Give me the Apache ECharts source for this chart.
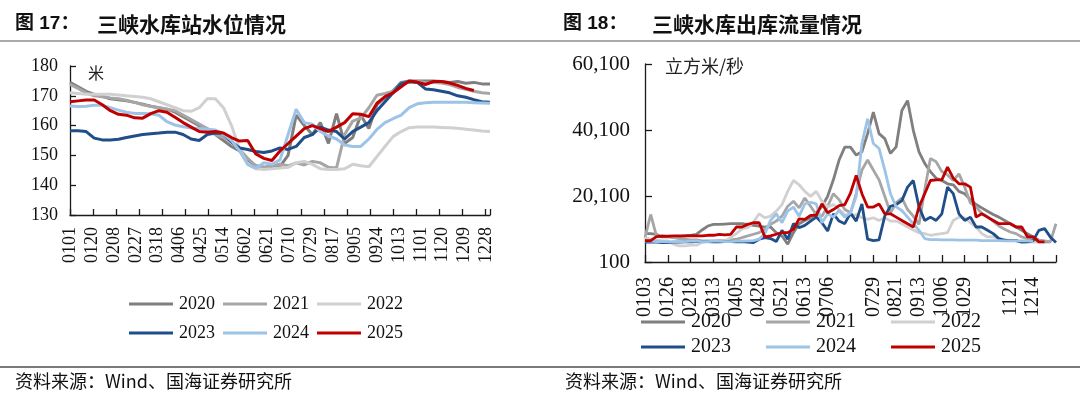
<!DOCTYPE html>
<html><head><meta charset="utf-8">
<script src="https://cdn.jsdelivr.net/npm/echarts@6/dist/echarts.min.js"></script>
<style>html,body{margin:0;padding:0;background:#fff}#c{width:1080px;height:395px}</style>
</head><body><div id="c"></div>
<script>
const years = ['2020','2021','2022','2023','2024','2025'];
const yearColors = ['#7f7f7f','#a6a6a6','#d0d0d0','#1f4e89','#9dc3e6','#c00000'];

// ---- Chart 17: water level (m), x = day of year (0 = Jan 1)
const levelTickLabels = ['0101','0120','0208','0227','0318','0406','0425','0514','0602','0621','0710','0729','0817','0905','0924','1013','1101','1120','1209','1228'];
const levelDays = [0,7,14,21,28,35,42,49,56,63,70,77,84,91,98,105,112,119,126,133,140,147,154,161,168,175,182,189,196,203,210,217,224,231,238,245,252,259,266,273,280,287,294,301,308,315,322,329,336,343,350,357,364];
const level2020 = [174.5,173.0,171.5,170.5,169.8,169.0,168.7,168.3,167.8,167.2,166.5,166.0,165.5,164.5,163.0,161.5,160.0,158.5,157.0,155.0,153.0,151.5,148.5,146.5,146.0,146.0,146.3,150.0,163.5,160.0,157.0,161.0,154.0,164.0,154.0,156.0,163.5,159.0,167.0,169.5,171.7,174.5,175.0,175.0,175.0,175.0,174.8,174.5,174.8,174.2,174.5,174.0,174.0];
const level2021 = [173.8,172.5,171.0,170.0,169.7,169.3,169.0,168.5,167.8,167.0,166.5,166.0,165.5,165.0,163.5,162.0,160.5,159.0,157.0,156.0,154.5,152.0,149.0,146.5,146.0,146.5,147.0,146.5,147.5,146.8,148.0,147.5,146.0,145.8,157.0,161.5,162.5,166.0,170.2,170.8,171.5,173.5,174.7,174.8,174.5,174.5,174.3,173.8,172.8,172.2,171.5,171.0,170.8];
const level2022 = [171.0,170.8,170.5,170.5,170.5,170.5,170.3,170.0,169.8,169.5,169.0,168.0,167.0,166.0,165.0,164.8,166.0,169.0,169.0,166.0,160.0,152.0,147.0,145.5,145.3,145.5,145.8,146.0,147.5,148.0,147.0,145.5,145.3,145.3,145.5,147.0,146.5,146.2,149.6,153.0,156.3,158.0,159.3,159.5,159.5,159.5,159.4,159.3,159.1,158.8,158.5,158.2,158.0];
const level2023 = [158.3,158.3,158.0,155.8,155.2,155.2,155.4,156.0,156.5,157.0,157.3,157.5,157.8,157.8,157.0,155.5,155.0,157.0,157.5,157.3,154.5,152.5,152.0,151.3,151.0,151.5,152.5,152.0,153.0,156.0,157.0,159.5,158.5,158.0,155.5,158.0,159.5,161.0,165.0,168.0,171.0,174.0,174.7,174.5,172.3,172.0,171.5,171.0,170.0,169.5,168.7,168.0,167.8];
const level2024 = [166.6,166.4,166.5,166.8,166.8,166.0,165.2,164.5,164.1,164.1,164.0,163.5,161.3,160.2,159.6,159.2,159.0,158.8,158.5,157.2,155.0,151.5,147.0,145.7,147.5,147.0,148.5,157.0,165.5,161.0,160.5,158.0,156.5,155.5,153.5,153.0,153.0,155.5,158.7,161.0,162.3,163.5,166.0,167.3,167.7,167.8,167.8,167.8,167.8,167.8,167.7,167.6,167.5];
const level2025 = [168.0,168.3,168.6,168.6,167.0,165.0,163.8,163.5,162.6,162.5,164.0,165.0,164.5,162.8,161.0,159.5,158.0,157.8,158.0,157.5,156.0,154.8,155.0,150.5,149.0,148.3,151.5,154.0,156.5,159.0,160.0,159.0,158.0,159.5,161.0,164.0,163.8,163.0,167.5,169.7,171.0,173.0,175.0,174.6,173.8,174.8,174.8,174.3,173.5,172.5,171.8,null,null];

// ---- Chart 18: outflow (m3/s), x = position in tick slots
const flowTickLabels = ['0103','0126','0218','0313','0405','0428','0521','0613','0706','','0729','0821','0913','1006','1029','','1121','1214',''];
const flowPos = [0,0.25,0.5,0.75,1,1.25,1.5,1.75,2,2.25,2.5,2.75,3,3.25,3.5,3.75,4,4.25,4.5,4.75,5,5.25,5.5,5.75,6,6.25,6.5,6.75,7,7.25,7.5,7.75,8,8.25,8.5,8.75,9,9.25,9.5,9.75,10,10.25,10.5,10.75,11,11.25,11.5,11.75,12,12.25,12.5,12.75,13,13.25,13.5,13.75,14,14.25,14.5,14.75,15,15.25,15.5,15.75,16,16.25,16.5,16.75,17,17.25,17.5,17.75,18];
const flow2020 = [8700,8700,8500,7700,7700,7700,7800,8000,8200,8500,9800,11000,11500,11500,11600,11700,11700,11700,11500,11200,11000,10700,10700,9000,8000,5500,9000,11700,12700,13500,15000,17000,20000,25000,31000,34900,34900,32500,33500,39000,45500,39000,37500,33000,35000,46000,49000,40000,33500,30000,27500,25500,24800,23800,23500,21500,20800,19000,17500,16500,15500,14500,13700,12700,11700,10700,9700,8700,7700,6700,6200,6200,null];
const flow2021 = [7500,14500,8000,8000,7800,7500,7200,7000,6800,6800,6500,6500,6500,6600,6600,6800,7000,7500,8000,8500,9000,10000,11500,12500,14000,17000,18500,16500,19500,17000,14500,14000,17000,20800,19000,16000,15000,20800,28000,31000,28000,25000,20000,15000,18000,19500,16000,14000,11500,22000,31500,30500,27500,26500,24800,26800,22800,18000,16800,14800,13800,12500,11000,10000,9200,8700,7700,7200,7000,6700,6500,6200,11700];
const flow2022 = [7500,7000,6800,6500,6500,5500,5000,5000,5200,5200,6000,6200,6200,6300,6500,7500,8700,10200,10500,12200,14700,13500,14000,15500,17500,21500,24800,23500,21500,20000,21500,18500,16800,17500,16000,14500,14000,14500,13500,13000,13500,12700,13500,12500,12500,11700,10700,9800,9000,8700,8200,8500,8700,9000,12700,13700,13500,12000,10700,8700,7700,7700,7200,6800,6600,6600,6300,6200,6100,6100,6100,null,null];
const flow2023 = [6100,6200,6100,6000,6000,6100,6100,6200,6200,6300,6300,6300,6200,6200,6300,6300,6200,6300,6100,6000,7000,7500,7200,6300,9700,7000,11700,10500,11200,12500,13700,12000,9500,14700,12500,11700,15000,12500,17700,7000,6600,6800,14000,17000,17500,18700,22800,24800,16800,12700,13700,12700,14700,22800,20800,14700,12700,13700,10700,10700,9700,8700,7200,6700,6600,6600,6100,6200,6600,9700,10200,7700,6000];
const flow2024 = [6500,6400,6300,6300,6200,6200,6300,6300,6400,6400,6300,6300,6400,6400,6300,6300,6400,6400,6500,6600,7000,8700,12700,14700,12000,15500,16750,14000,17700,18200,17700,12000,14700,13700,15700,13700,15000,20000,36000,43500,36000,34500,28000,20800,16800,15700,13700,11700,9700,7200,6900,6900,6800,6800,6800,6700,6700,6700,6700,6600,6600,6600,6600,6500,6500,6500,6500,6500,6400,null,null,null,null];
const flow2025 = [6600,6600,7800,7900,7900,8000,8000,8000,8100,8000,8000,8200,8200,8500,8300,8500,10700,10700,11500,12000,12000,7700,8000,8500,9000,9000,10000,13200,13000,14200,14200,17750,15000,16000,17200,17500,21000,26300,20800,16750,16750,17700,14700,14700,13700,12700,11700,10700,16800,20800,24800,25000,25000,28850,25500,23800,23800,22800,13700,14700,13700,12700,11700,11700,11700,10700,10700,7700,7700,6200,6200,null,null];

const levelSeries = [level2020, level2021, level2022, level2023, level2024, level2025];
const flowSeries = [flow2020, flow2021, flow2022, flow2023, flow2024, flow2025];

const serif = "'Liberation Serif', 'Times New Roman', serif";
const axisColor = '#1a1a1a';

function pairs(xs, ys) {
  const out = [];
  for (let i = 0; i < xs.length; i++) if (ys[i] != null) out.push([xs[i], ys[i]]);
  return out;
}
function commas(v) { return String(Math.round(v)).replace(/\B(?=(\d{3})+(?!\d))/g, ','); }

const series = [];
years.forEach((y, k) => {
  series.push({ name: y, type: 'line', xAxisIndex: 0, yAxisIndex: 0, showSymbol: false, symbol: 'none',
    data: pairs(levelDays, levelSeries[k]), lineStyle: { width: 3, color: yearColors[k] }, itemStyle: { color: yearColors[k] }, z: 2 + k });
});
years.forEach((y, k) => {
  series.push({ name: y, type: 'line', xAxisIndex: 2, yAxisIndex: 1, showSymbol: false, symbol: 'none',
    data: pairs(flowPos, flowSeries[k]), lineStyle: { width: 2.8, color: yearColors[k] }, itemStyle: { color: yearColors[k] }, z: 2 + k });
});

function legendItem(name, left, top, size) {
  return { data: [name], left: left, top: top, padding: 0, itemGap: 0, itemWidth: 44, itemHeight: 3, icon: 'rect',
    selectedMode: false, textStyle: { fontFamily: serif, fontSize: size, color: '#111', padding: [0, 0, 0, 1] } };
}
const legends = [
  legendItem('2020', 129, 295, 18), legendItem('2021', 223, 295, 18), legendItem('2022', 317, 295, 18),
  legendItem('2023', 129, 324, 18), legendItem('2024', 223, 324, 18), legendItem('2025', 317, 324, 18),
  legendItem('2020', 641, 312, 20), legendItem('2021', 766, 312, 20), legendItem('2022', 891, 312, 20),
  legendItem('2023', 641, 337, 20), legendItem('2024', 766, 337, 20), legendItem('2025', 891, 337, 20)
];

const chart = echarts.init(document.getElementById('c'), null, { renderer: 'canvas' });
chart.setOption({
  animation: false,
  backgroundColor: '#fff',
  grid: [
    { left: 70, top: 66, width: 420, height: 149 },
    { left: 645, top: 64, width: 411, height: 198 }
  ],
  xAxis: [
    { type: 'value', gridIndex: 0, min: 0, max: 364, interval: 19,
      axisLine: { show: true, lineStyle: { color: axisColor, width: 1.3 } },
      axisTick: { show: false }, splitLine: { show: false },
      axisLabel: { rotate: 90, margin: 12, fontFamily: serif, fontSize: 18, color: '#111', showMaxLabel: true,
        formatter: v => (v % 19 === 0 ? (levelTickLabels[v / 19] || '') : '') } },
    { type: 'value', gridIndex: 0, min: 0, max: 364, interval: 20, position: 'bottom',
      axisLine: { show: false }, axisLabel: { show: false }, splitLine: { show: false },
      axisTick: { show: true, inside: true, length: 6, lineStyle: { color: axisColor, width: 1.3 } } },
    { type: 'value', gridIndex: 1, min: 0, max: 18, interval: 1,
      axisLine: { show: true, lineStyle: { color: axisColor, width: 1.3 } },
      axisTick: { show: true, inside: true, length: 7, lineStyle: { color: axisColor, width: 1.3 } },
      splitLine: { show: false },
      axisLabel: { rotate: 90, margin: 15, fontFamily: serif, fontSize: 20, color: '#111',
        formatter: v => (flowTickLabels[Math.round(v)] || '') } }
  ],
  yAxis: [
    { type: 'value', gridIndex: 0, min: 130, max: 180, interval: 10,
      axisLine: { show: true, lineStyle: { color: axisColor, width: 1.3 } },
      axisTick: { show: true, inside: true, length: 6, lineStyle: { color: axisColor, width: 1.3 } },
      splitLine: { show: false },
      axisLabel: { margin: 12, fontFamily: serif, fontSize: 18, color: '#111' } },
    { type: 'value', gridIndex: 1, min: 100, max: 60100, interval: 20000,
      axisLine: { show: true, lineStyle: { color: axisColor, width: 1.3 } },
      axisTick: { show: true, inside: true, length: 7, lineStyle: { color: axisColor, width: 1.3 } },
      splitLine: { show: false },
      axisLabel: { margin: 15, fontFamily: serif, fontSize: 21, color: '#111', formatter: v => commas(v) } }
  ],
  legend: legends,
  series: series,
  graphic: [
    { type: 'line', shape: { x1: 0, y1: 41, x2: 1080, y2: 41 }, style: { stroke: '#8c8c8c', lineWidth: 1.6 }, silent: true },
    { type: 'line', shape: { x1: 0, y1: 367, x2: 1080, y2: 367 }, style: { stroke: '#7a7a7a', lineWidth: 2 }, silent: true },
    { type: 'text', x: 15, y: 24, style: { text: '图 17：', font: "bold 19px 'Liberation Sans', 'Noto Sans CJK SC'", fill: '#111', verticalAlign: 'middle' } },
    { type: 'text', x: 97, y: 24, style: { text: '三峡水库站水位情况', font: "bold 21px 'Noto Sans CJK SC'", fill: '#111', verticalAlign: 'middle' } },
    { type: 'text', x: 563, y: 24, style: { text: '图 18：', font: "bold 19px 'Liberation Sans', 'Noto Sans CJK SC'", fill: '#111', verticalAlign: 'middle' } },
    { type: 'text', x: 652, y: 24, style: { text: '三峡水库出库流量情况', font: "bold 21px 'Noto Sans CJK SC'", fill: '#111', verticalAlign: 'middle' } },
    { type: 'text', x: 88, y: 73, style: { text: '米', font: "16px 'Noto Sans CJK SC'", fill: '#222', verticalAlign: 'middle' } },
    { type: 'text', x: 665, y: 66, style: { text: '立方米/秒', font: "18px 'Noto Sans CJK SC'", fill: '#222', verticalAlign: 'middle' } },
    { type: 'text', x: 15, y: 381, style: { text: '资料来源：Wind、国海证券研究所', font: "18px 'Noto Sans CJK SC'", fill: '#111', verticalAlign: 'middle' } },
    { type: 'text', x: 565, y: 381, style: { text: '资料来源：Wind、国海证券研究所', font: "18px 'Noto Sans CJK SC'", fill: '#111', verticalAlign: 'middle' } }
  ]
});
</script></body></html>
